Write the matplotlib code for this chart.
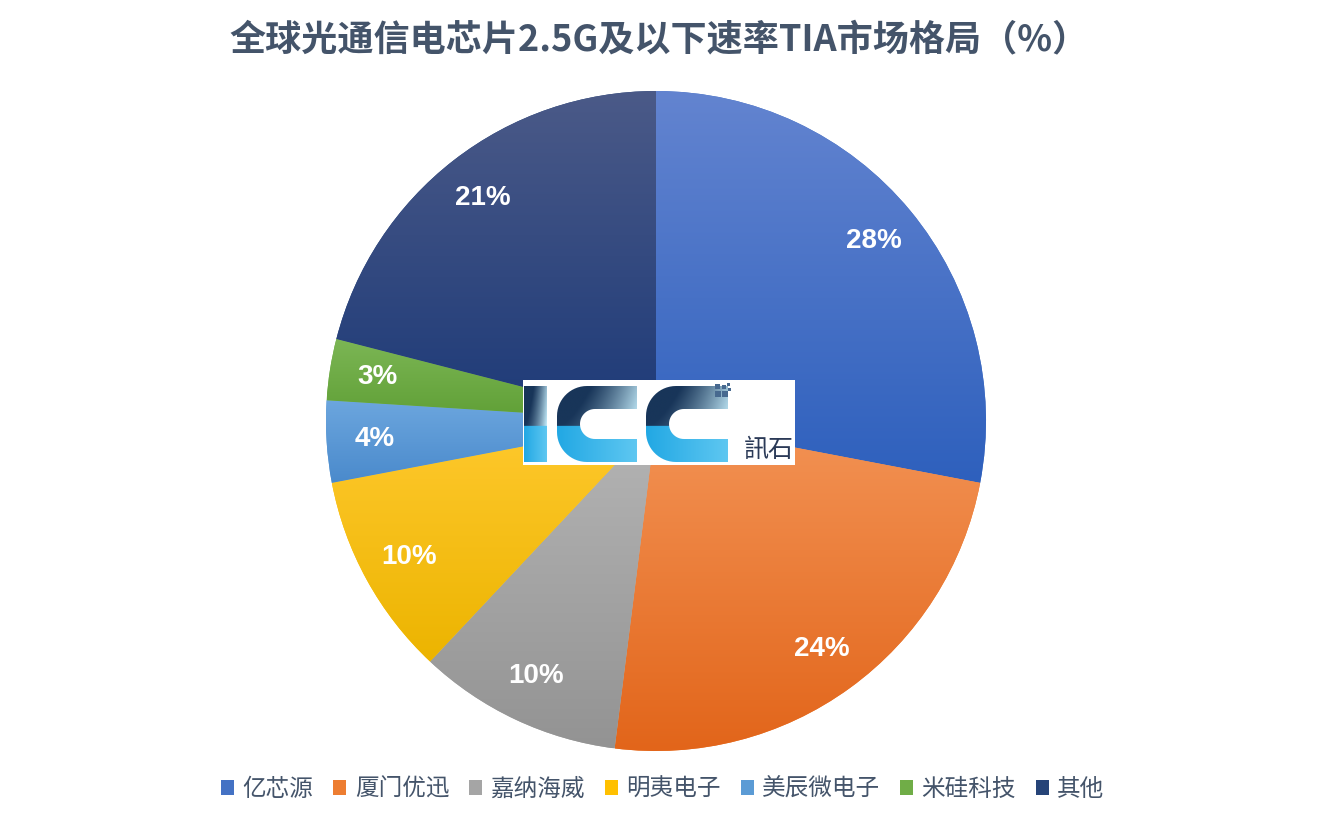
import numpy as np
import matplotlib.pyplot as plt
from matplotlib.patches import Patch, Rectangle, PathPatch
from matplotlib.path import Path
from matplotlib.colors import to_rgb

# data
companies = ["亿芯源", "厦门优迅", "嘉纳海威", "明夷电子", "美辰微电子", "米硅科技", "其他"]
shares = [28, 24, 10, 10, 4, 3, 21]
colors = ["#4472C4", "#ED7D31", "#A5A5A5", "#FFC000", "#5B9BD5", "#70AD47", "#264478"]
# gradient ends (top, bottom) for each slice
tops = ["#6384d0", "#f39355", "#b5b5b5", "#ffc92e", "#6ca6de", "#7cb655", "#4b5a88"]
bottoms = ["#2e60bd", "#e2651a", "#939393", "#ecb400", "#4a8acc", "#5f9f35", "#1d3a78"]
title = "全球光通信电芯片2.5G及以下速率TIA市场格局（%）"

W, H = 1317, 822
TXT = "#44546A"
CJK = ["Noto Sans CJK SC", "DejaVu Sans"]


def vgrad(top, bottom, n=256):
    top, bottom = np.array(to_rgb(top)), np.array(to_rgb(bottom))
    t = np.linspace(0, 1, n)[:, None]
    col = bottom[None, :] * (1 - t) + top[None, :] * t
    return np.repeat(col[:, None, :], 2, axis=1)


fig = plt.figure(figsize=(W / 100, H / 100), dpi=100)
ax = fig.add_axes([0, 0, 1, 1])

wedges, texts, autotexts = ax.pie(
    shares, colors=colors, startangle=90, counterclock=False,
    center=(656, H - 421), radius=330,
    autopct=lambda p: f"{p:.0f}%", pctdistance=0.855,
    textprops=dict(color="white", fontsize=20, fontweight="bold",
                   family=["Liberation Sans", "DejaVu Sans"]),
    wedgeprops=dict(linewidth=0))

# vertical gradient fill on every slice
for w, t, b in zip(wedges, tops, bottoms):
    x0, y0, x1, y1 = w.get_path().get_extents().extents
    im = ax.imshow(vgrad(t, b), extent=[x0, x1, y0, y1], origin="lower",
                   aspect="auto", interpolation="bilinear", zorder=1.5)
    im.set_clip_path(w)
for t in autotexts:
    t.set_zorder(3)

# ICC logo (drawn, approximate)
ax.add_patch(Rectangle((523, H - 465), 272, 85, facecolor="white",
                       edgecolor="none", zorder=4))


def c_path(x0, ytop, w, h, t, ro, ri):
    # C shape, image coordinates converted to data coordinates
    yb = H - (ytop + h)
    yt = H - ytop
    verts, codes = [], []

    def add(p, code):
        verts.append(p)
        codes.append(code)

    def arc(cx, cy, r, a0, a1):
        for a in np.linspace(a0, a1, 16):
            add((cx + r * np.cos(np.radians(a)), cy + r * np.sin(np.radians(a))), Path.LINETO)

    add((x0 + w, yt), Path.MOVETO)
    add((x0 + ro, yt), Path.LINETO)
    arc(x0 + ro, yt - ro, ro, 90, 180)
    arc(x0 + ro, yb + ro, ro, 180, 270)
    add((x0 + w, yb), Path.LINETO)
    add((x0 + w, yb + t), Path.LINETO)
    add((x0 + t + ri, yb + t), Path.LINETO)
    arc(x0 + t + ri, yb + t + ri, ri, 270, 180)
    arc(x0 + t + ri, yt - t - ri, ri, 180, 90)
    add((x0 + w, yt - t), Path.LINETO)
    add((x0 + w, yt), Path.CLOSEPOLY)
    return Path(verts, codes)


def logo_img(nx=64, ny=64):
    split = 0.47
    img = np.zeros((ny, nx, 3))
    xs = np.linspace(0, 1, nx)
    top_l, top_r = np.array(to_rgb("#183559")), np.array(to_rgb("#c4ecfa"))
    bot_l, bot_r = np.array(to_rgb("#22a8e4")), np.array(to_rgb("#5ec7f1"))
    for j in range(ny):
        fy = j / (ny - 1)
        if fy > split:
            k = np.clip(xs ** 1.6 - (fy - split) * 0.5, 0, 1)[:, None]
            img[j] = top_l[None] * (1 - k) + top_r[None] * k
        else:
            img[j] = bot_l[None] * (1 - xs[:, None]) + bot_r[None] * xs[:, None]
    return img


letters = [
    Path([(524, H - 462), (547, H - 462), (547, H - 386), (524, H - 386), (524, H - 462)],
         [Path.MOVETO, Path.LINETO, Path.LINETO, Path.LINETO, Path.CLOSEPOLY]),
    c_path(557, 386, 80, 76, 23, 30, 15),
    c_path(646, 386, 82, 76, 23, 30, 15),
]
for p in letters:
    pp = PathPatch(p, facecolor="none", edgecolor="none", zorder=5)
    ax.add_patch(pp)
    x0, y0, x1, y1 = p.get_extents().extents
    im = ax.imshow(logo_img(), extent=[x0, x1, y0, y1], origin="lower",
                   aspect="auto", interpolation="bilinear", zorder=5)
    im.set_clip_path(pp)

for (sx, sy, s) in [(715, 391, 6), (722, 391, 6), (715, 384, 5), (722, 385, 4), (727, 383, 3), (728, 388, 3)]:
    ax.add_patch(Rectangle((sx, H - sy - s), s, s, facecolor="#47698f",
                           edgecolor="none", zorder=5))

ax.text(769, H - 450, "訊石", fontsize=18, color="#2b3a57", ha="center", va="center",
        fontweight="medium",
        family=["Noto Sans CJK TC", "Noto Sans CJK SC", "DejaVu Sans"], zorder=6)

ax.set_xlim(0, W)
ax.set_ylim(0, H)
ax.axis("off")

fig.text(659 / W, 1 - 40 / H, title, ha="center", va="center", fontsize=26,
         fontweight="bold", color=TXT, family=CJK)

handles = [Patch(facecolor=c, edgecolor="none") for c in colors]
leg = fig.legend(handles, companies, loc="center", bbox_to_anchor=(663 / W, 1 - 789 / H),
                 ncol=len(companies), frameon=False, handlelength=0.55, handleheight=0.6,
                 handletextpad=0.35, columnspacing=0.85,
                 prop=dict(family=CJK, size=17))
for t in leg.get_texts():
    t.set_color(TXT)

fig.savefig("out.png", dpi=100)
